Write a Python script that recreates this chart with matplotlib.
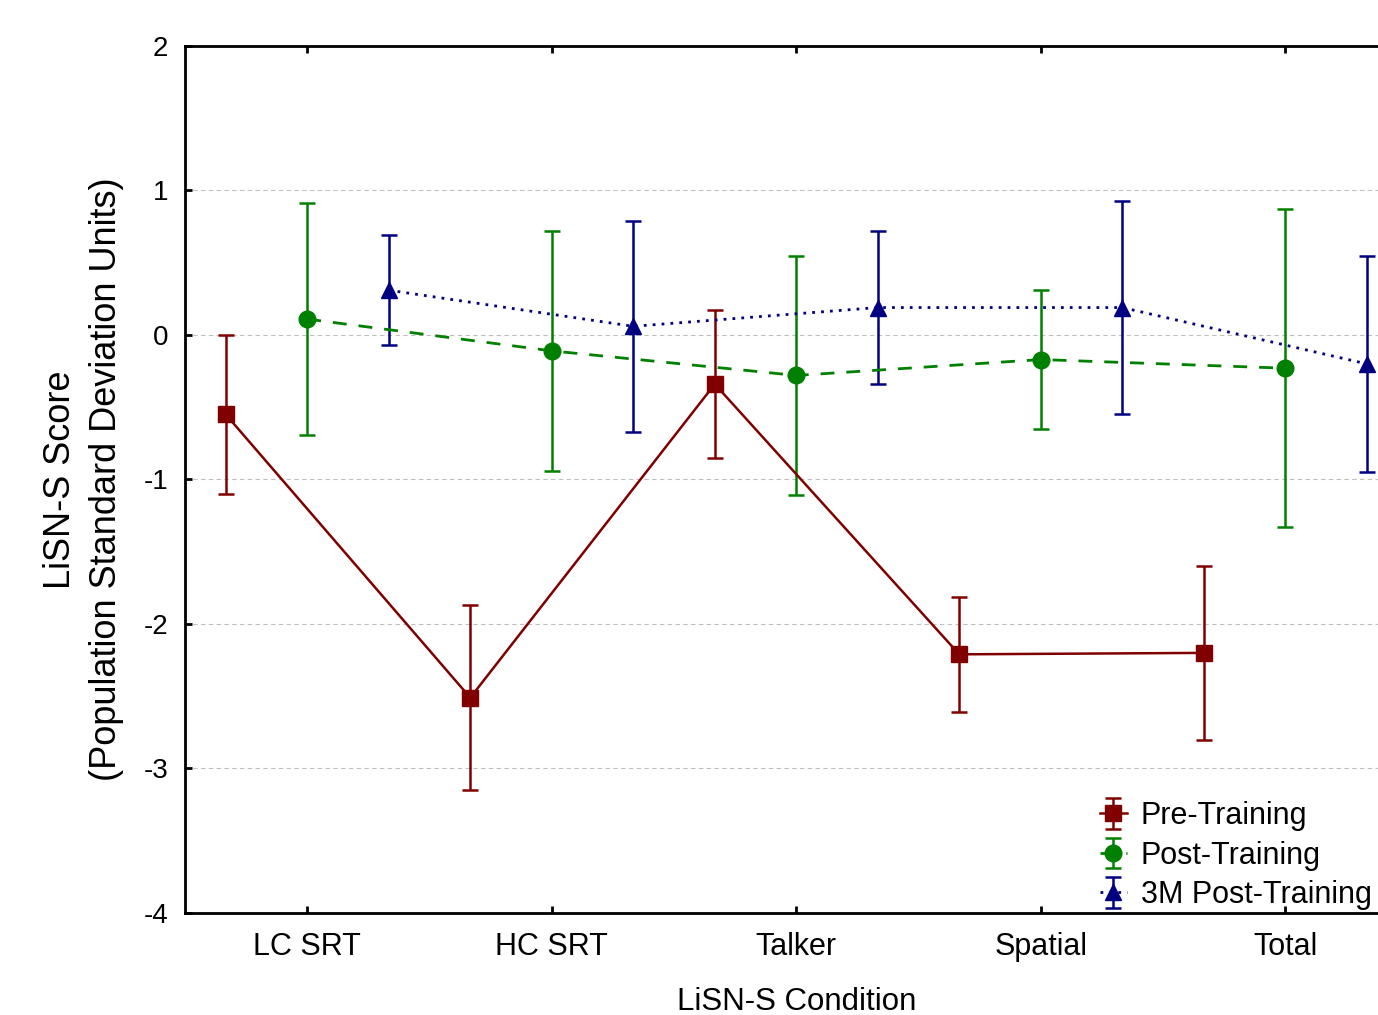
import numpy as np
import matplotlib.pyplot as plt

plt.rcParams['font.family'] = ['Liberation Sans', 'DejaVu Sans']

# categories and values
conditions = ['LC SRT', 'HC SRT', 'Talker', 'Spatial', 'Total']
pre_mean = [-0.55, -2.51, -0.34, -2.21, -2.20]
pre_err = [0.55, 0.64, 0.51, 0.40, 0.60]
post_mean = [0.11, -0.11, -0.28, -0.17, -0.23]
post_err = [0.80, 0.83, 0.83, 0.48, 1.10]
m3_mean = [0.31, 0.06, 0.19, 0.19, -0.20]
m3_err = [0.38, 0.73, 0.53, 0.74, 0.75]

red = '#800000'
green = '#008000'
navy = '#000080'

fig = plt.figure(figsize=(13.78, 10.15), dpi=100)
ax = fig.add_axes([0.13425, 0.1005, 0.8872, 0.8542])

x = np.arange(len(conditions))
off = 1 / 3

# light dashed grid
for yv in [1, 0, -1, -2, -3]:
    ax.axhline(yv, color='#c0c0c0', lw=0.8, ls=(0, (4, 3)), zorder=0)

h1 = ax.errorbar(x - off, pre_mean, yerr=pre_err, color=red, lw=1.8,
                 marker='s', ms=11, capsize=6, capthick=1.8, elinewidth=1.8,
                 label='Pre-Training', zorder=3)
h2 = ax.errorbar(x, post_mean, yerr=post_err, color=green, lw=2,
                 ls=(0, (5, 4.3)), marker='o', ms=12, capsize=6,
                 capthick=1.8, elinewidth=1.8, label='Post-Training', zorder=3)
h3 = ax.errorbar(x + off, m3_mean, yerr=m3_err, color=navy, lw=2,
                 ls=(0, (1, 2.2)), marker='^', ms=12, capsize=6,
                 capthick=1.8, elinewidth=1.8, label='3M Post-Training', zorder=3)

ax.set_xlim(-0.5, 4.5)
ax.set_ylim(-4, 2)
ax.set_yticks([2, 1, 0, -1, -2, -3, -4])
ax.set_yticklabels(['2', '1', '0', '-1', '-2', '-3', '-4'])
ax.set_xticks(x)
ax.set_xticklabels(conditions)

for s in ax.spines.values():
    s.set_linewidth(2)
ax.tick_params(axis='both', direction='in', length=5, width=2,
               top=True, right=True)
ax.tick_params(axis='x', labelsize=22, pad=14)
ax.tick_params(axis='y', labelsize=20, pad=12)

ax.set_xlabel('LiSN-S Condition', fontsize=22.5, labelpad=18)
ax.set_ylabel('LiSN-S Score\n(Population Standard Deviation Units)',
              fontsize=26, labelpad=14, linespacing=1.4)

ax.legend(handles=[h1, h2, h3], loc='upper left',
          bbox_to_anchor=(0.798, 0.2108), bbox_transform=fig.transFigure,
          frameon=False, fontsize=22, handlelength=0.9, handletextpad=0.45,
          labelspacing=0.31, borderpad=0, borderaxespad=0)

fig.savefig('out.png', dpi=100)
